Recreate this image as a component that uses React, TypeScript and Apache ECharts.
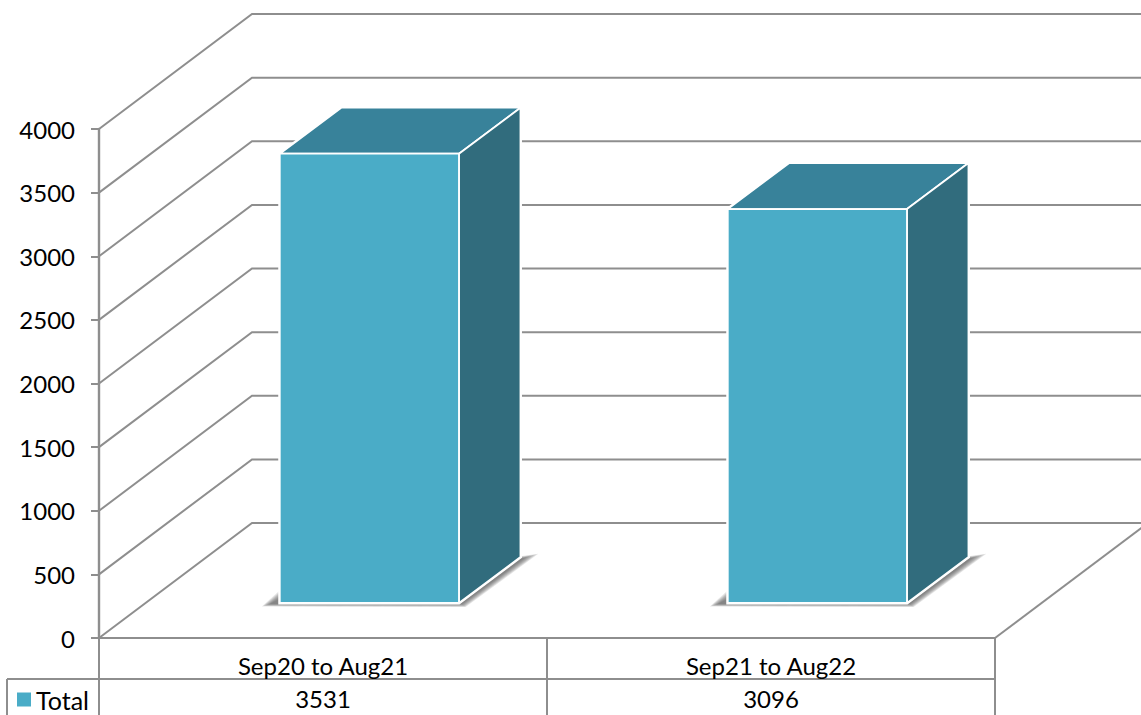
import React, { useEffect, useRef } from "react";
import * as echarts from "echarts";

const categories = ["Sep20 to Aug21", "Sep21 to Aug22"];
const totals = [3531, 3096];
const tableValues = ["3531", "3096"];
const yTicks = [0, 500, 1000, 1500, 2000, 2500, 3000, 3500, 4000];
const seriesName = "Total";

const FONT = "Lato";
const GRID_COLOR = "#8e8e8e";
const FRONT = "#4AACC7";
const TOP = "#38829A";
const SIDE = "#316C7D";
const WALL_DX = 153;
const WALL_DY = -115;
const BAR_DX = 61.5;
const BAR_DY = -46;
const BAR_LIFT = 35;
const SHADOW_SPREADS = [6, 5, 4, 3, 2, 1, 0];

export default function App() {
  const ref = useRef<HTMLDivElement>(null);
  useEffect(() => {
    document.body.style.margin = "0";
    const chart = echarts.init(ref.current!, null, { renderer: "svg" });
    const wallItem = (params: any, api: any) => {
      const cs = params.coordSys;
      const y = api.coord([0, api.value(1)])[1];
      const x0 = cs.x;
      const x1 = cs.x + cs.width;
      const style = { stroke: GRID_COLOR, lineWidth: 2, fill: "none" };
      const children: any[] = [
        {
          type: "polyline",
          shape: { points: [[x0, y], [x0 + WALL_DX, y + WALL_DY], [x1 + WALL_DX, y + WALL_DY]] },
          style,
        },
      ];
      if (api.value(1) === 0) {
        children.push({
          type: "line",
          shape: { x1, y1: y, x2: x1 + WALL_DX, y2: y + WALL_DY },
          style,
        });
      }
      return { type: "group", children };
    };
    const barItem = (params: any, api: any) => {
      const band = api.size([1, 0])[0];
      const c = api.coord([api.value(0), 0]);
      const l = c[0] - band * 0.0965;
      const r = l + band * 0.4;
      const b = c[1] - BAR_LIFT;
      const t = b - api.size([0, api.value(1)])[1];
      const dx = BAR_DX;
      const dy = BAR_DY;
      const edge = { stroke: "#ffffff", lineWidth: 1.8, lineJoin: "round" };
      const shadows = SHADOW_SPREADS.map((s) => ({
        type: "polygon",
        shape: {
          points: [
            [l - 10 - s * 1.3, b + 1 + s * 0.4],
            [l + 1, b - 5 - s * 1.4],
            [r + dx + 4 + s * 2.3, b + dy + 1 - s * 0.7],
            [r + 3 + s * 0.6, b + 1 + s * 0.5],
          ],
        },
        style: { fill: "rgba(70,70,70,0.14)" },
      }));
      return {
        type: "group",
        children: [
          ...shadows,
          {
            type: "polygon",
            shape: { points: [[l, b], [l, t], [l + dx, t + dy], [r + dx, t + dy], [r + dx, b + dy], [r, b]] },
            style: { fill: "#ffffff", stroke: "#ffffff", lineWidth: 3 },
          },
          {
            type: "polygon",
            shape: { points: [[l, t], [r, t], [r + dx, t + dy], [l + dx, t + dy]] },
            style: { fill: TOP, ...edge },
          },
          {
            type: "polygon",
            shape: { points: [[r, t], [r + dx, t + dy], [r + dx, b + dy], [r, b]] },
            style: { fill: SIDE, ...edge },
          },
          {
            type: "rect",
            shape: { x: l, y: t, width: r - l, height: b - t },
            style: { fill: FRONT, ...edge },
          },
        ],
      };
    };
    const font = { fontFamily: FONT, fontSize: 24, color: "#000000" };
    chart.setOption({
      animation: false,
      backgroundColor: "#ffffff",
      grid: { left: 99, top: 129, width: 896, height: 509, containLabel: false },
      legend: {
        left: 14,
        top: 684,
        padding: 3,
        itemWidth: 14,
        itemHeight: 14,
        itemGap: 0,
        data: [{ name: seriesName, icon: "rect" }],
        textStyle: { ...font, fontSize: 25 },
      },
      xAxis: [
        {
          type: "category",
          data: categories,
          position: "bottom",
          axisLine: { show: true, lineStyle: { color: GRID_COLOR, width: 2 } },
          axisTick: { show: true, length: 78, lineStyle: { color: GRID_COLOR, width: 2 } },
          axisLabel: { ...font, margin: 15 },
          splitLine: { show: false },
        },
        {
          type: "category",
          data: tableValues,
          position: "bottom",
          offset: 34,
          axisLine: { show: false },
          axisTick: { show: false },
          axisLabel: { ...font, margin: 14 },
          splitLine: { show: false },
        },
      ],
      yAxis: {
        type: "value",
        min: 0,
        max: 4000,
        interval: 500,
        axisLine: { show: true, lineStyle: { color: GRID_COLOR, width: 2.4 } },
        axisTick: { show: true, length: 8, lineStyle: { color: GRID_COLOR, width: 2 } },
        axisLabel: { ...font, margin: 24, formatter: (v: number) => String(v) },
        splitLine: { show: false },
      },
      graphic: [
        { type: "line", shape: { x1: 7, y1: 679, x2: 995, y2: 679 }, style: { stroke: GRID_COLOR, lineWidth: 2 } },
        { type: "line", shape: { x1: 7, y1: 679, x2: 7, y2: 715 }, style: { stroke: GRID_COLOR, lineWidth: 2 } },
      ],
      series: [
        {
          name: "walls",
          type: "custom",
          renderItem: wallItem,
          data: yTicks.map((v) => [0, v]),
          encode: { x: 0, y: 1 },
          z: 1,
          silent: true,
        },
        {
          name: seriesName,
          type: "custom",
          renderItem: barItem,
          data: totals.map((v, i) => [i, v]),
          encode: { x: 0, y: 1 },
          itemStyle: { color: FRONT },
          z: 2,
        },
      ],
    });
    return () => chart.dispose();
  }, []);
  return <div ref={ref} style={{ width: 1141, height: 715 }} />;
}
